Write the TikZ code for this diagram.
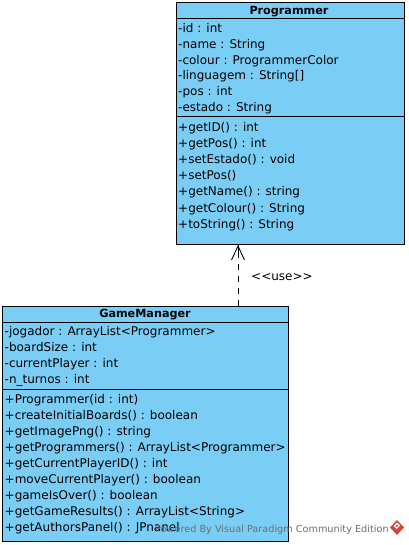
\documentclass[tikz,border=0pt]{standalone}
\usepackage{fontspec}
\setmainfont{DejaVu Sans}
\usetikzlibrary{arrows.meta}
\definecolor{classblue}{HTML}{7ACEF5}
\definecolor{wmgrey}{HTML}{6E6E6E}
\definecolor{vpred}{HTML}{D9433A}
\tikzset{
  classbox/.style={draw=black,fill=classblue,line width=1pt,rectangle,inner sep=0pt,anchor=north west},
  classline/.style={draw=black,line width=1pt},
  classname/.style={font=\fontsize{11.2}{12}\selectfont\bfseries,inner sep=0pt,anchor=base},
  member/.style={font=\fontsize{12}{13}\selectfont,inner sep=0pt,anchor=base west,text=black},
  usearrow/.style={line width=0.9pt,dash pattern=on 6pt off 6pt,-},
  usehead/.style={line width=0.9pt,-{Straight Barb[length=14pt,width=13pt]}},
  wmark/.style={font=\fontsize{9.7}{12}\selectfont,inner sep=0pt,text=wmgrey,anchor=base west},
}
\begin{document}
\begin{tikzpicture}[x=1pt,y=-1pt]
\useasboundingbox (0,0) rectangle (408,545);
% Programmer
\node[classbox,minimum width=228pt,minimum height=242pt] (prog) at (176,2) {};
\node[classname] (progname) at (289,14.5) {Programmer};
\draw[classline] (176,19) coordinate (pa) -- (404,19) coordinate (pb);
\draw[classline] (176,117) coordinate (pc) -- (404,117) coordinate (pd);
\foreach \y/\t [count=\i] in {
 33/{-id : int},49/{-name : String},65/{-colour : ProgrammerColor},
 80/{-linguagem : String[]},96/{-pos : int},112/{-estado : String},
 132/{+getID() : int},148/{+getPos() : int},164/{+setEstado() : void},
 180/{+setPos()},196/{+getName() : string},212/{+getColour() : String},
 228/{+toString() : String}}
  \node[member] (pm\i) at (178,\y) {\t};
% GameManager
\node[classbox,minimum width=286pt,minimum height=235pt] (gm) at (2,306) {};
\node[classname] (gmname) at (145,317.5) {GameManager};
\draw[classline] (2,322) coordinate (ga) -- (288,322) coordinate (gb);
\draw[classline] (2,389) coordinate (gc) -- (288,389) coordinate (gd);
\foreach \y/\t [count=\i] in {
 335/{-jogador : ArrayList<Programmer>},351/{-boardSize : int},
 367/{-currentPlayer : int},383/{-n\_turnos : int},
 403/{+Programmer(id : int)},419/{+createInitialBoards() : boolean},
 435/{+getImagePng() : string},451/{+getProgrammers() : ArrayList<Programmer>},
 467/{+getCurrentPlayerID() : int},483/{+moveCurrentPlayer() : boolean},
 499/{+gameIsOver() : boolean},515/{+getGameResults() : ArrayList<String>},
 531/{+getAuthorsPanel() : JPnanel}}
  \node[member] (gm\i) at (4.5,\y) {\t};
% dependency
\coordinate (usex) at (238,275);
\draw[usearrow] (gm.north -| usex) -- (prog.south -| usex);
\draw[usehead] (usex |- 0,258) -- (prog.south -| usex);
\node[member] (uselabel) at (251,280) {{<}{<}use{>}{>}};
% watermark
\node[wmark] (wm) at (155,532) {Powered By Visual Paradigm Community Edition};
\fill[vpred] (397,520) -- (404,527.5) -- (397,535) -- (390,527.5) -- cycle;
\fill[white] (393.5,526) -- (397,522.5) -- (400,525.5) -- (396.5,529) -- cycle;
\fill[vpred] (395.5,526) -- (397,524.5) -- (398.2,525.7) -- (396.7,527.2) -- cycle;
\end{tikzpicture}
\end{document}
